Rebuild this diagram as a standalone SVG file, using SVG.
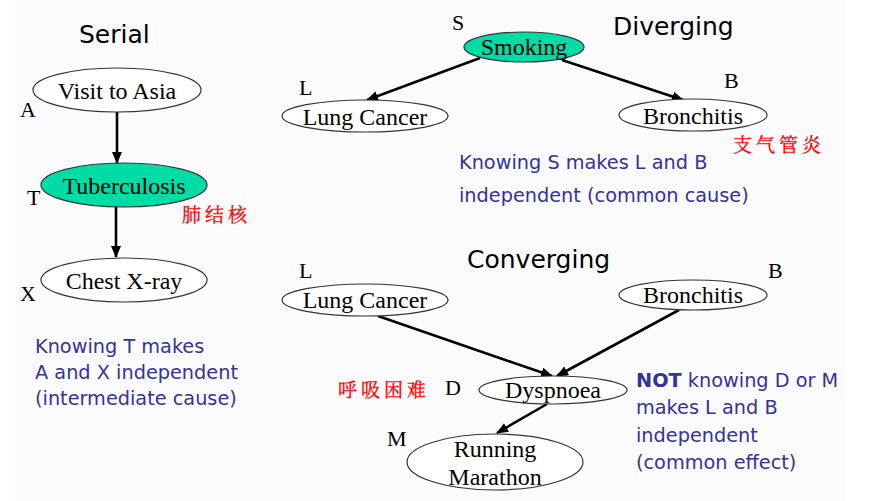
<svg xmlns="http://www.w3.org/2000/svg" width="883" height="501" viewBox="0 0 883 501">
<defs>
<style>
.title{font-family:"DejaVu Sans","Verdana",sans-serif;font-size:25px;fill:#000}
.node{fill:#fff;stroke:#333;stroke-width:1.2}
.hot{fill:#00dca6;stroke:#333;stroke-width:1.2}
.lbl{font-family:"Liberation Serif","Times New Roman",serif;font-size:24px;fill:#000;text-anchor:middle}
.var{font-family:"Liberation Serif","Times New Roman",serif;font-size:22px;fill:#000}
.note{font-family:"DejaVu Sans","Verdana",sans-serif;font-size:19.3px;fill:#333399}
.cn{font-family:"Noto Serif CJK SC","Noto Sans CJK SC",serif;font-size:19px;fill:#ff0000;stroke:#ff0000;stroke-width:0.3;letter-spacing:4px}
.edge{stroke:#000;stroke-width:2.6;fill:none;marker-end:url(#ah)}
</style>
<marker id="ah" viewBox="0 0 12 10" refX="11" refY="5" markerWidth="12" markerHeight="10" markerUnits="userSpaceOnUse" orient="auto">
<path d="M0,0 L12,5 L0,10 z" fill="#000"/>
</marker>
</defs>
<rect x="0" y="0" width="883" height="501" fill="#ffffff"/>
<rect x="15" y="0" width="830" height="501" fill="#fbfbfd"/>

<text class="title" x="79" y="43">Serial</text>
<text class="title" x="613" y="35">Diverging</text>
<text class="title" x="467" y="268">Converging</text>

<g id="edges">
<line class="edge" x1="117" y1="112" x2="117" y2="163"/>
<line class="edge" x1="116" y1="207" x2="116" y2="257"/>
<line class="edge" x1="480" y1="58" x2="367" y2="100"/>
<line class="edge" x1="562" y1="60" x2="683" y2="100"/>
<line class="edge" x1="378" y1="316" x2="552" y2="376"/>
<line class="edge" x1="679" y1="310" x2="557" y2="376"/>
<line class="edge" x1="547" y1="404" x2="497" y2="433"/>
</g>

<g id="A">
<ellipse class="node" cx="117" cy="90" rx="84" ry="22"/>
<text class="lbl" x="117" y="99">Visit to Asia</text>
<text class="var" x="20" y="117">A</text>
</g>
<g id="T">
<ellipse class="hot" cx="124" cy="185" rx="83" ry="22"/>
<text class="lbl" x="124" y="194">Tuberculosis</text>
<text class="var" x="27" y="205">T</text>
<text class="cn" x="182" y="222">肺结核</text>
</g>
<g id="X">
<ellipse class="node" cx="124" cy="280" rx="83" ry="22"/>
<text class="lbl" x="124" y="289">Chest X-ray</text>
<text class="var" x="20" y="301">X</text>
</g>
<g id="serial-note">
<text class="note" x="35" y="353">Knowing T makes</text>
<text class="note" x="35" y="379">A and X independent</text>
<text class="note" x="35" y="405">(intermediate cause)</text>
</g>

<g id="S">
<ellipse class="hot" cx="524" cy="47" rx="60" ry="15"/>
<text class="lbl" x="524" y="55">Smoking</text>
<text class="var" x="452" y="30">S</text>
</g>
<g id="L1">
<ellipse class="node" cx="365" cy="116" rx="83" ry="16"/>
<text class="lbl" x="365" y="125">Lung Cancer</text>
<text class="var" x="299" y="95">L</text>
</g>
<g id="B1">
<ellipse class="node" cx="693" cy="115" rx="74" ry="16"/>
<text class="lbl" x="693" y="124">Bronchitis</text>
<text class="var" x="724" y="88">B</text>
<text class="cn" x="733" y="152">支气管炎</text>
</g>
<g id="div-note">
<text class="note" x="459" y="169">Knowing S makes L and B</text>
<text class="note" x="459" y="202">independent (common cause)</text>
</g>

<g id="L2">
<ellipse class="node" cx="365" cy="300" rx="83" ry="16"/>
<text class="lbl" x="365" y="308">Lung Cancer</text>
<text class="var" x="299" y="278">L</text>
</g>
<g id="B2">
<ellipse class="node" cx="693" cy="295" rx="74" ry="15"/>
<text class="lbl" x="693" y="303">Bronchitis</text>
<text class="var" x="768" y="278">B</text>
</g>
<g id="D">
<ellipse class="node" cx="553" cy="390" rx="74" ry="14"/>
<text class="lbl" x="553" y="398">Dyspnoea</text>
<text class="var" x="445" y="395">D</text>
<text class="cn" x="338" y="397">呼吸困难</text>
</g>
<g id="M">
<ellipse class="node" cx="495" cy="462" rx="88" ry="28"/>
<text class="lbl" x="495" y="457">Running</text>
<text class="lbl" x="495" y="485">Marathon</text>
<text class="var" x="387" y="446">M</text>
</g>
<g id="conv-note">
<text class="note" x="636" y="387"><tspan font-weight="bold">NOT</tspan> knowing D or M</text>
<text class="note" x="636" y="414">makes L and B</text>
<text class="note" x="636" y="442">independent</text>
<text class="note" x="636" y="469">(common effect)</text>
</g>
</svg>
